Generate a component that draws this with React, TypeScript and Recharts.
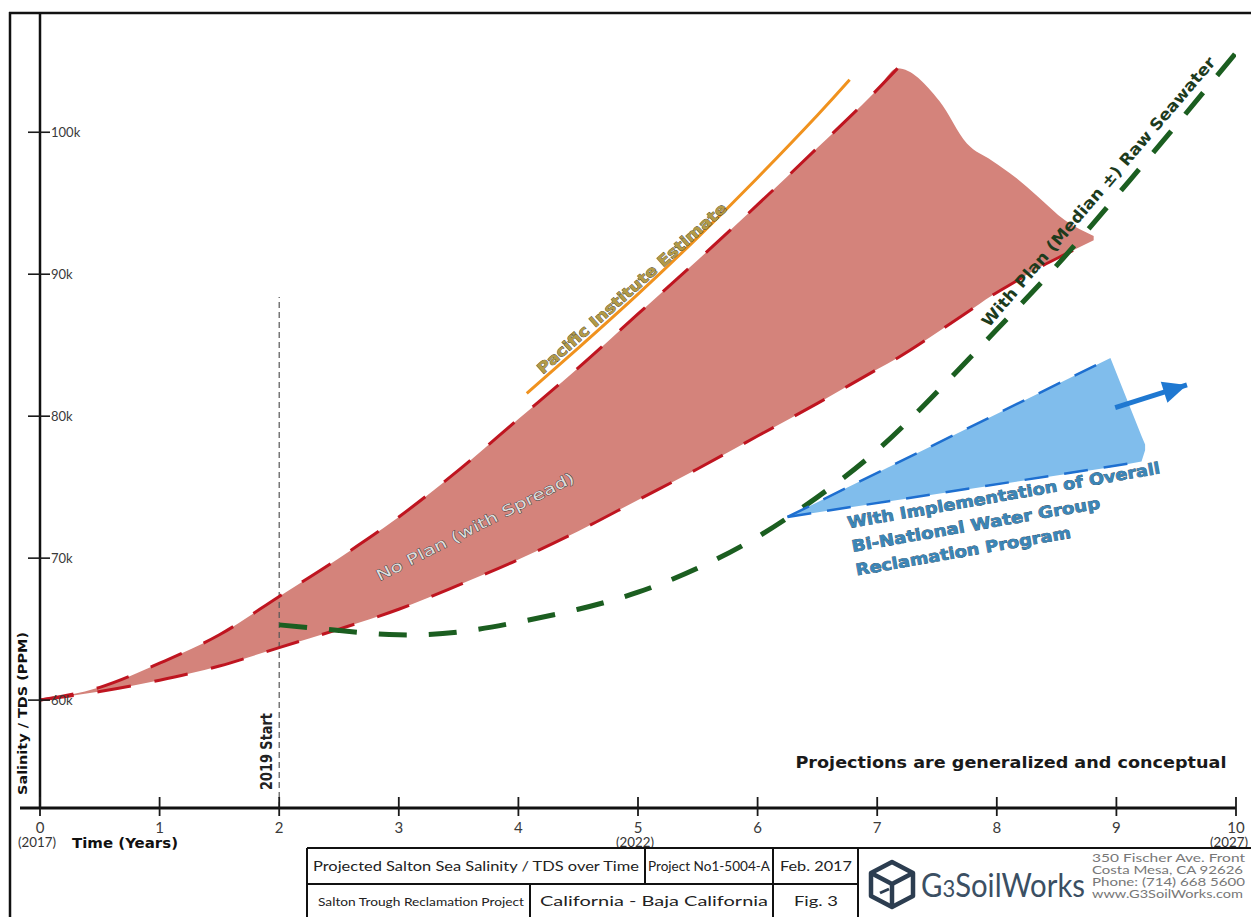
import { ComposedChart, Area, Line, XAxis, YAxis, ReferenceLine, ReferenceDot } from 'recharts';

// years since 2017
const years = [0, 1, 2, 3, 4, 5, 6, 7, 8, 9, 10];
const yearNotes: Record<number, string> = { 0: '(2017)', 5: '(2022)', 10: '(2027)' };
const salinityTicks = [60, 70, 80, 90, 100];

// No Plan (with spread), thousands of ppm
const noPlanX = [0, 0.5, 1, 1.5, 2, 2.5, 3, 3.5, 4, 4.5, 5, 5.5, 6, 6.5, 7, 7.17, 7.52, 7.75, 7.96, 8.16, 8.34, 8.57, 8.81];
const noPlanLow = [60, 60.6, 61.4, 62.4, 63.7, 65.0, 66.4, 68.1, 69.9, 71.9, 74.1, 76.3, 78.6, 80.9, 83.3, 84.1, 86.0, 87.3, 88.5, 89.5, 90.4, 91.4, 92.4];
const noPlanHigh = [60, 60.9, 62.6, 64.6, 67.3, 70.0, 72.9, 76.2, 79.8, 83.4, 87.2, 91.0, 94.9, 98.9, 103.0, 104.5, 102.2, 99.2, 98.0, 96.8, 95.5, 93.8, 92.7];

// With Plan (Median +-) Raw Seawater
const withPlanX = [2, 2.5, 3, 3.5, 4, 4.5, 5, 5.5, 6, 6.5, 7, 7.5, 8, 8.5, 9, 9.5, 10];
const withPlanY = [65.3, 64.9, 64.6, 64.8, 65.5, 66.4, 67.6, 69.3, 71.5, 74.3, 77.6, 81.7, 86.1, 90.6, 95.5, 100.5, 105.6];

// Pacific Institute Estimate
const pacificX = [4.07, 4.5, 5, 5.5, 6, 6.5, 6.77];
const pacificY = [81.6, 84.8, 88.6, 92.6, 96.8, 101.2, 103.7];

// With Implementation of Overall Bi-National Water Group Reclamation Program
const implX = [6.25, 8.95, 9.21, 9.24];
const implLow = [72.9, 76.4, 76.8, 77.6];
const implHigh = [72.9, 84.1, 78.6, 78.0];
const implTopX = [6.25, 8.95];
const implTopY = [72.9, 84.1];
const implBottomX = [6.25, 9.21];
const implBottomY = [72.9, 76.8];
const arrowX = [8.99, 9.59];
const arrowY = [80.6, 82.2];

const startYear = 2;
const startTop = 88.4;

const Y_MIN = 52.4;
const Y_MAX = 108.4;

const noPlanArea = noPlanX.map((x, i) => ({ x, range: [noPlanLow[i], noPlanHigh[i]] }));
const noPlanUpper = noPlanX.slice(0, 16).map((x, i) => ({ x, v: noPlanHigh[i] }));
const noPlanLower = noPlanX.map((x, i) => ({ x, v: noPlanLow[i] }));
const withPlan = withPlanX.map((x, i) => ({ x, v: withPlanY[i] }));
const pacific = pacificX.map((x, i) => ({ x, v: pacificY[i] }));
const implArea = implX.map((x, i) => ({ x, range: [implLow[i], implHigh[i]] }));
const implTop = implTopX.map((x, i) => ({ x, v: implTopY[i] }));
const implBottom = implBottomX.map((x, i) => ({ x, v: implBottomY[i] }));
const arrow = arrowX.map((x, i) => ({ x, v: arrowY[i] }));

const thin = 'Lato, "Open Sans", sans-serif';
const bold = '"DejaVu Sans", "Open Sans", sans-serif';

const YTick = (p: any) => {
  const { x, y, payload } = p;
  return (
    <g>
      <line x1={x - 12} x2={x + 10} y1={y} y2={y} stroke="#1a1a1a" strokeWidth={1.6} />
      <text x={x + 11} y={y + 4.5} fontSize={13} fill="#3a3a3a" fontFamily={thin}>
        {payload.value}k
      </text>
    </g>
  );
};

const XTick = (p: any) => {
  const { x, y, payload } = p;
  const note = yearNotes[payload.value];
  return (
    <g>
      <line x1={x} x2={x} y1={y - 11} y2={y + 8} stroke="#1a1a1a" strokeWidth={1.8} />
      <text x={x} y={y + 25} textAnchor="middle" fontSize={15} fill="#3a3a3a" fontFamily={thin}>
        {payload.value}
      </text>
      {note && (
        <text x={payload.value === 10 ? x - 7 : x - 3} y={y + 39} textAnchor="middle" fontSize={13} fill="#333"
          fontFamily={thin} textLength={38} lengthAdjust="spacingAndGlyphs">
          {note}
        </text>
      )}
    </g>
  );
};

const arrowStart = { x: 0, y: 0 };
const ArrowHead = (p: any) => {
  if (p.index === 0) {
    arrowStart.x = p.cx;
    arrowStart.y = p.cy;
    return <g key="arrow-0" />;
  }
  const ang = (Math.atan2(p.cy - arrowStart.y, p.cx - arrowStart.x) * 180) / Math.PI;
  return (
    <polygon
      key="arrow-1"
      points="0,0 -24,-11 -24,11"
      transform={`translate(${p.cx},${p.cy}) rotate(${ang})`}
      fill="#1f78d1"
    />
  );
};

const rotated = (text: string, angle: number, len: number, style: any) => (p: any) => (
  <text
    transform={`translate(${p.cx},${p.cy}) rotate(${angle})`}
    textAnchor="middle"
    dominantBaseline="central"
    textLength={len}
    lengthAdjust="spacingAndGlyphs"
    paintOrder="stroke"
    {...style}
  >
    {text}
  </text>
);

const ImplLabel = (p: any) => (
  <g transform={`translate(${p.cx},${p.cy}) rotate(-10)`} fontFamily={bold} fontWeight={700} fontSize={16}
    fill="#3a86b8" stroke="#16334a" strokeWidth={0.6} paintOrder="stroke">
    <text x={0} y={0} textLength={317} lengthAdjust="spacingAndGlyphs">With Implementation of Overall</text>
    <text x={0} y={24} textLength={252} lengthAdjust="spacingAndGlyphs">Bi-National Water Group</text>
    <text x={0} y={48} textLength={218} lengthAdjust="spacingAndGlyphs">Reclamation Program</text>
  </g>
);

const StartLabel = (p: any) => (
  <text
    transform={`translate(${p.cx - 12},${p.cy - 18}) rotate(-90)`}
    fontFamily={bold}
    fontWeight={700}
    fontSize={15}
    fill="#222"
    dominantBaseline="central"
    textLength={77}
    lengthAdjust="spacingAndGlyphs"
  >
    2019 Start
  </text>
);

const NoteLabel = (p: any) => (
  <text x={p.cx} y={p.cy} textAnchor="end" fontFamily={bold} fontWeight={700} fontSize={15} fill="#1a1a1a"
    textLength={431} lengthAdjust="spacingAndGlyphs">
    Projections are generalized and conceptual
  </text>
);

const TitleBlock = () => (
  <svg width={1251} height={917} style={{ position: 'absolute', left: 0, top: 0, pointerEvents: 'none' }}>
    {/* outer frame */}
    <line x1={10} x2={10} y1={12} y2={917} stroke="#111" strokeWidth={2.5} />
    <line x1={9} x2={1251} y1={13} y2={13} stroke="#111" strokeWidth={2.5} />
    <line x1={20} x2={40} y1={808} y2={808} stroke="#111" strokeWidth={3} />
    {/* axis titles */}
    <text transform="translate(22,795) rotate(-90)" fontFamily={bold} fontWeight={700} fontSize={13} fill="#111"
      dominantBaseline="central" textLength={163} lengthAdjust="spacingAndGlyphs">
      Salinity / TDS (PPM)
    </text>
    <text x={72} y={848} fontFamily={bold} fontWeight={700} fontSize={14} fill="#111" textLength={106} lengthAdjust="spacingAndGlyphs">
      Time (Years)
    </text>
    {/* title block grid */}
    <rect x={307} y={848} width={950} height={80} fill="#fff" />
    <g stroke="#111" strokeWidth={2}>
      <line x1={307} x2={1251} y1={848} y2={848} />
      <line x1={307} x2={858} y1={884} y2={884} />
      <line x1={307} x2={307} y1={848} y2={917} />
      <line x1={645} x2={645} y1={848} y2={884} />
      <line x1={530} x2={530} y1={884} y2={917} />
      <line x1={773} x2={773} y1={848} y2={917} />
      <line x1={858} x2={858} y1={848} y2={917} />
    </g>
    <g fontFamily={thin} fill="#222" textAnchor="middle">
      <text x={476} y={871} fontSize={14} textLength={326} lengthAdjust="spacingAndGlyphs">Projected Salton Sea Salinity / TDS over Time</text>
      <text x={709} y={871} fontSize={13} textLength={122} lengthAdjust="spacingAndGlyphs">Project No1-5004-A</text>
      <text x={816} y={871} fontSize={14} textLength={72} lengthAdjust="spacingAndGlyphs">Feb. 2017</text>
      <text x={421} y={906} fontSize={12} textLength={206} lengthAdjust="spacingAndGlyphs">Salton Trough Reclamation Project</text>
      <text x={654} y={906} fontSize={14} textLength={228} lengthAdjust="spacingAndGlyphs">California - Baja California</text>
      <text x={816} y={906} fontSize={14} textLength={44} lengthAdjust="spacingAndGlyphs">Fig. 3</text>
    </g>
    {/* logo */}
    <g fill="none" stroke="#2c3d50" strokeWidth={4.5} strokeLinejoin="round">
      <polygon points="892,862 913,873 913,896 892,907 871,896 871,873" />
      <polyline points="871,873 892,884 913,873" />
      <line x1={892} x2={892} y1={884} y2={907} />
      <line x1={880} x2={889} y1={893} y2={889} strokeWidth={3} />
    </g>
    <text x={921} y={897} fontFamily={thin} fontSize={32} fill="#3b4f63" textLength={164} lengthAdjust="spacingAndGlyphs">
      G<tspan fontSize={24}>3</tspan>SoilWorks
    </text>
    <g fontFamily={thin} fontSize={11} fill="#777">
      <text x={1092} y={862} textLength={153} lengthAdjust="spacingAndGlyphs">350 Fischer Ave. Front</text>
      <text x={1092} y={874} textLength={151} lengthAdjust="spacingAndGlyphs">Costa Mesa, CA 92626</text>
      <text x={1092} y={886} textLength={153} lengthAdjust="spacingAndGlyphs">Phone: (714) 668 5600</text>
      <text x={1092} y={898} textLength={151} lengthAdjust="spacingAndGlyphs">www.G3SoilWorks.com</text>
    </g>
  </svg>
);

export default function App() {
  return (
    <div style={{ position: 'absolute', left: 0, top: 0, width: 1251, height: 917, background: '#fff', overflow: 'hidden' }}>
      <ComposedChart width={1251} height={917} margin={{ top: 13, right: 15, bottom: 108, left: 39 }}>
        <XAxis
          type="number"
          dataKey="x"
          domain={[0, 10]}
          ticks={years}
          allowDataOverflow
          height={1}
          tickSize={0}
          tickMargin={0}
          tickLine={false}
          tick={<XTick />}
          axisLine={{ stroke: '#111', strokeWidth: 3 }}
          interval={0}
        />
        <YAxis
          type="number"
          domain={[Y_MIN, Y_MAX]}
          ticks={salinityTicks}
          allowDataOverflow
          width={1}
          tickSize={0}
          tickMargin={0}
          tickLine={false}
          tick={<YTick />}
          axisLine={{ stroke: '#111', strokeWidth: 2.5 }}
          interval={0}
        />
        <Area data={noPlanArea} dataKey="range" type="monotone" fill="#d4837b" fillOpacity={1} stroke="none" isAnimationActive={false} />
        <Area data={implArea} dataKey="range" type="linear" fill="#80bdec" fillOpacity={1} stroke="none" isAnimationActive={false} />
        <ReferenceLine
          segment={[{ x: startYear, y: Y_MIN }, { x: startYear, y: startTop }]}
          stroke="#555"
          strokeWidth={1.2}
          strokeDasharray="6 4"
        />
        <Line data={pacific} dataKey="v" type="natural" stroke="#f0921e" strokeWidth={3} dot={false} isAnimationActive={false} />
        <Line data={noPlanUpper} dataKey="v" type="monotone" stroke="#bf1520" strokeWidth={3} strokeDasharray="34 24" dot={false} isAnimationActive={false} />
        <Line data={noPlanLower} dataKey="v" type="monotone" stroke="#bf1520" strokeWidth={3} strokeDasharray="34 24" dot={false} isAnimationActive={false} />
        <Line data={withPlan} dataKey="v" type="natural" stroke="#1b5e20" strokeWidth={5} strokeDasharray="28 22" dot={false} isAnimationActive={false} />
        <Line data={implTop} dataKey="v" type="linear" stroke="#1e6fd0" strokeWidth={2.5} strokeDasharray="24 16" dot={false} isAnimationActive={false} />
        <Line data={implBottom} dataKey="v" type="linear" stroke="#1e6fd0" strokeWidth={2.5} strokeDasharray="24 16" dot={false} isAnimationActive={false} />
        <Line data={arrow} dataKey="v" type="linear" stroke="#1f78d1" strokeWidth={5} dot={ArrowHead} isAnimationActive={false} />
        <ReferenceDot x={4.95} y={89.0} r={0}
          shape={rotated('Pacific Institute Estimate', -41.7, 248, { fontFamily: bold, fontWeight: 700, fontSize: 15, fill: '#b39a45', stroke: '#3d3a2a', strokeWidth: 0.7 })} />
        <ReferenceDot x={3.64} y={72.2} r={0}
          shape={rotated('No Plan (with Spread)', -27, 220, { fontFamily: bold, fontSize: 15, fill: '#dcdcdc', stroke: '#3f3f3f', strokeWidth: 0.8 })} />
        <ReferenceDot x={8.85} y={95.8} r={0}
          shape={rotated('With Plan (Median ±) Raw Seawater', -49.4, 349, { fontFamily: bold, fontWeight: 700, fontSize: 16, fill: '#1d3b1d' })} />
        <ReferenceDot x={6.76} y={72.1} r={0} shape={ImplLabel} />
        <ReferenceDot x={startYear} y={Y_MIN} r={0} shape={StartLabel} />
        <ReferenceDot x={9.92} y={55.2} r={0} shape={NoteLabel} />
      </ComposedChart>
      <TitleBlock />
    </div>
  );
}
